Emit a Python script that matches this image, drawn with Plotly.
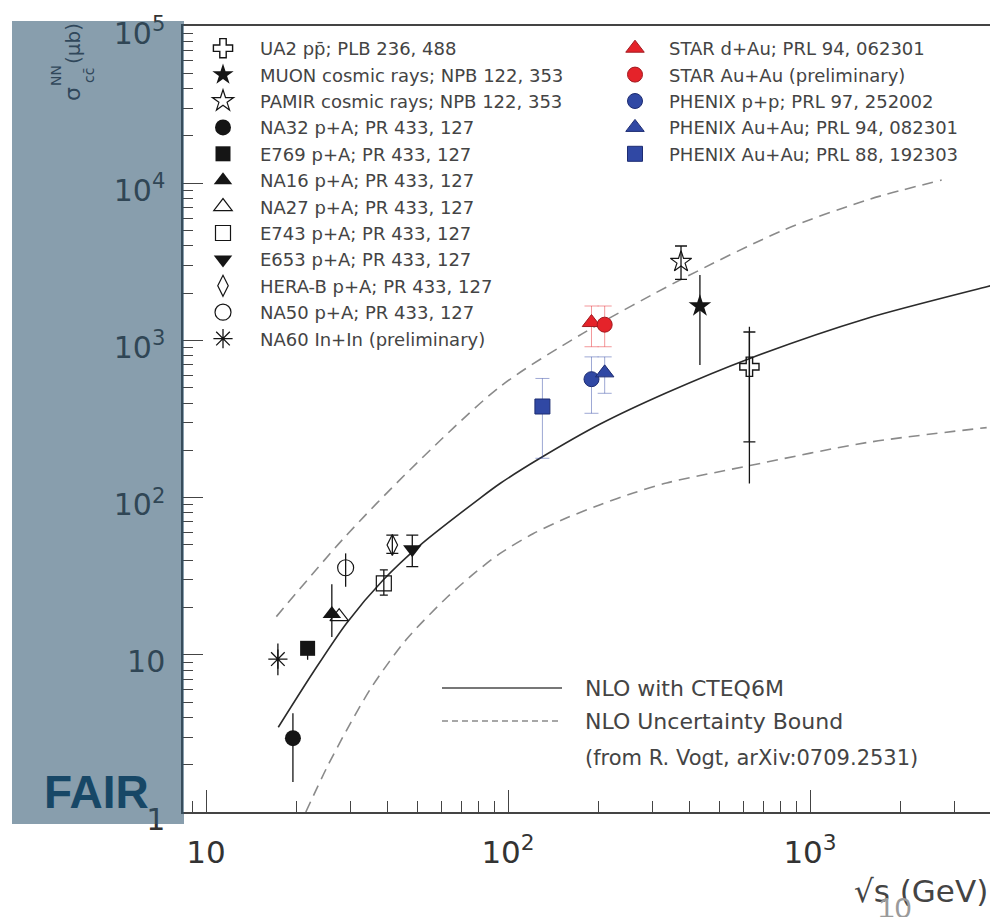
import plotly.graph_objects as go

# ---------------------------------------------------------------------------
# Open-charm production cross sections, sigma_cc (microbarn) vs sqrt(s) (GeV)
# ---------------------------------------------------------------------------
labels = [
    "UA2 pp̄; PLB 236, 488",
    "MUON cosmic rays; NPB 122, 353",
    "PAMIR cosmic rays; NPB 122, 353",
    "NA32 p+A; PR 433, 127",
    "E769 p+A; PR 433, 127",
    "NA16 p+A; PR 433, 127",
    "NA27 p+A; PR 433, 127",
    "E743 p+A; PR 433, 127",
    "E653 p+A; PR 433, 127",
    "HERA-B p+A; PR 433, 127",
    "NA50 p+A; PR 433, 127",
    "NA60 In+In (preliminary)",
    "STAR d+Au; PRL 94, 062301",
    "STAR Au+Au (preliminary)",
    "PHENIX p+p; PRL 97, 252002",
    "PHENIX Au+Au; PRL 94, 082301",
    "PHENIX Au+Au; PRL 88, 192303",
]
sqrt_s = [630, 432, 374, 19.4, 21.7, 26.1, 27.6, 38.8, 48.2, 41.4, 29.0, 17.3,
          189, 209, 189, 209, 130]
sigma = [680, 1656, 3165, 2.95, 11.0, 18.2, 17.5, 28.5, 46.9, 49.9, 35.8, 9.4,
         1300, 1260, 567, 622, 380]
err_plus = [452, 951, 825, 1.3, 0.5, 9.9, 0, 6.2, 10.9, 7.9, 8.4, 2.4,
            356, 396, 219, 164, 193]
err_minus = [454, 958, 718, 1.4, 1.7, 5.2, 0, 4.5, 10.5, 5.7, 8.7, 2.0,
             388, 348, 223, 161, 202]

# UA2 full (stat + syst) extent, drawn without caps
ua2_total_plus = [542]
ua2_total_minus = [557]

# NLO calculation with CTEQ6M (R. Vogt) and its uncertainty band
nlo_x = [17.35, 22.7, 29.2, 38.6, 51.2, 80.7, 94.1, 127.6, 202, 335, 632, 1541, 3850, 4000]
nlo_y = [3.46, 7.8, 15.9, 29.9, 49.9, 99, 123, 178, 294, 465, 769, 1381, 2197, 2240]
upper_x = [17.1, 28.5, 47.3, 94.1, 177, 371, 817, 1585, 2729]
upper_y = [17.5, 54.8, 150, 508, 1109, 2422, 5036, 7943, 10480]
lower_x = [21.4, 25.1, 29.2, 35.5, 46.2, 63.1, 78.7, 94.2, 121, 156, 202, 260, 335,
           632, 1542, 3846]
lower_y = [1.0, 1.91, 3.31, 6.31, 12.6, 23.4, 33.9, 44.2, 58.9, 74.1, 90.2, 107, 124,
           160, 224, 279]

# ---------------------------------------------------------------------------
# styling
# ---------------------------------------------------------------------------
BLACK = "#151515"
RED, RED_EDGE, RED_BAR = "#e5232a", "#a11a20", "rgba(229,35,42,0.6)"
BLUE, BLUE_EDGE, BLUE_BAR = "#3048a4", "#1d2c72", "rgba(48,72,164,0.6)"

# symbol, fill colour, edge colour, edge width, size, error colour, bar width, cap width, legend
styles = [
    ("cross-open", BLACK, BLACK, 1.4, 16, BLACK, 1.3, 6, "legend"),
    ("star", BLACK, BLACK, 0, 17, BLACK, 1.3, 0, "legend"),
    ("star-open", BLACK, BLACK, 1.2, 16, BLACK, 1.3, 6, "legend"),
    ("circle", BLACK, BLACK, 0, 16, BLACK, 1.3, 0, "legend"),
    ("square", BLACK, BLACK, 0, 15, BLACK, 1.3, 0, "legend"),
    ("triangle-up", BLACK, BLACK, 0, 16, BLACK, 1.3, 0, "legend"),
    ("triangle-up-open", BLACK, BLACK, 1.2, 16, BLACK, 1.3, 0, "legend"),
    ("square-open", BLACK, BLACK, 1.2, 15, BLACK, 1.3, 4, "legend"),
    ("triangle-down", BLACK, BLACK, 0, 16, BLACK, 1.3, 6, "legend"),
    ("diamond-tall-open", BLACK, BLACK, 1.2, 15, BLACK, 1.3, 6, "legend"),
    ("circle-open", BLACK, BLACK, 1.2, 16, BLACK, 1.3, 0, "legend"),
    ("asterisk-open", BLACK, BLACK, 1.3, 16, BLACK, 1.3, 0, "legend"),
    ("triangle-up", RED, RED_EDGE, 1, 16, RED_BAR, 0.8, 7, "legend2"),
    ("circle", RED, RED_EDGE, 1, 15, RED_BAR, 0.8, 7, "legend2"),
    ("circle", BLUE, BLUE_EDGE, 1, 15, BLUE_BAR, 0.8, 7, "legend2"),
    ("triangle-up", BLUE, BLUE_EDGE, 1, 16, BLUE_BAR, 0.8, 7, "legend2"),
    ("square", BLUE, BLUE_EDGE, 1, 15, BLUE_BAR, 0.8, 7, "legend2"),
]

FONT = "DejaVu Sans"
TEXT = "#3a3a3a"

fig = go.Figure()

# theory curves (behind the data)
fig.add_trace(go.Scatter(x=nlo_x, y=nlo_y, mode="lines", name="NLO with CTEQ6M",
                         line=dict(color="#2b2b2b", width=1.6, shape="spline", smoothing=0.8),
                         showlegend=False, hoverinfo="skip"))
fig.add_trace(go.Scatter(x=upper_x, y=upper_y, mode="lines", name="NLO Uncertainty Bound",
                         line=dict(color="#8a8a8a", width=1.6, dash="11px,7px",
                                   shape="spline", smoothing=0.8),
                         showlegend=False, hoverinfo="skip"))
fig.add_trace(go.Scatter(x=lower_x, y=lower_y, mode="lines", name="NLO Uncertainty Bound",
                         line=dict(color="#8a8a8a", width=1.6, dash="11px,7px",
                                   shape="spline", smoothing=0.8),
                         showlegend=False, hoverinfo="skip"))

# UA2 outer error bar (no caps)
fig.add_trace(go.Scatter(x=sqrt_s[:1], y=sigma[:1], mode="markers",
                         marker=dict(size=1, color="rgba(0,0,0,0)"),
                         error_y=dict(type="data", symmetric=False, array=ua2_total_plus,
                                      arrayminus=ua2_total_minus, color=BLACK,
                                      thickness=1.3, width=0),
                         showlegend=False, hoverinfo="skip"))

for i, name in enumerate(labels):
    sym, fill, edge, ew, size, ecol, bar_w, capw, leg = styles[i]
    has_err = err_plus[i] > 0 or err_minus[i] > 0
    fig.add_trace(go.Scatter(
        x=[sqrt_s[i]], y=[sigma[i]], mode="markers", name=name, legend=leg,
        marker=dict(symbol=sym, size=size, color=fill,
                    line=dict(color=edge, width=ew)),
        error_y=dict(type="data", symmetric=False, array=[err_plus[i]],
                     arrayminus=[err_minus[i]], color=ecol, thickness=bar_w,
                     width=capw, visible=has_err),
    ))

# ---------------------------------------------------------------------------
# layout
# ---------------------------------------------------------------------------
W, H = 990, 917
L, R, T, B = 183, 990, 26, 812  # plot-area edges in pixels


def xp(px):
    return (px - L) / (R - L)


def yp(py):
    return (B - py) / (B - T)


axis_common = dict(type="log", showline=True, linecolor="#444", linewidth=1.5,
                   ticks="inside", tickcolor="#444", tickwidth=1.3,
                   showgrid=False, zeroline=False, automargin=False)

fig.update_layout(
    width=W, height=H,
    margin=dict(l=L, r=W - R, t=T, b=H - B, pad=0, autoexpand=False),
    paper_bgcolor="white", plot_bgcolor="white",
    font=dict(family=FONT, color=TEXT),
    xaxis=dict(**axis_common, range=[0.92384, 3.59603], mirror=True,
               tickvals=[10, 100, 1000],
               ticktext=["10", "10<sup>2</sup>", "10<sup>3</sup>"],
               ticklen=22, tickfont=dict(family=FONT, size=31, color="#333"),
               ticklabelstandoff=12,
               minor=dict(ticks="inside", ticklen=11, dtick="D1",
                          tickcolor="#444", tickwidth=1.2, showgrid=False)),
    yaxis=dict(**axis_common, range=[0, 5.0005], mirror=False,
               tickvals=[1, 10, 100, 1000, 1e4, 1e5],
               ticktext=["1", "10", "10<sup>2</sup>", "10<sup>3</sup>",
                         "10<sup>4</sup>", "10<sup>5</sup>"],
               ticklen=20, tickfont=dict(family=FONT, size=30, color="#333"),
               ticklabelstandoff=10, ticklabelshift=7,
               minor=dict(ticks="inside", ticklen=10, dtick="D1",
                          tickcolor="#444", tickwidth=1.2, showgrid=False)),
    legend=dict(xref="paper", yref="paper", x=xp(186), y=yp(30),
                xanchor="left", yanchor="top", bgcolor="rgba(0,0,0,0)",
                font=dict(family=FONT, size=18, color="#444"), itemwidth=64,
                tracegroupgap=0),
    legend2=dict(xref="paper", yref="paper", x=xp(601), y=yp(30),
                 xanchor="left", yanchor="top", bgcolor="rgba(0,0,0,0)",
                 font=dict(family=FONT, size=18, color="#444"), itemwidth=58,
                 tracegroupgap=0),
    showlegend=True,
)

# key for the theory curves
fig.add_shape(type="line", xref="paper", yref="paper",
              x0=xp(442), x1=xp(562), y0=yp(688), y1=yp(688),
              line=dict(color="#4a4a4a", width=1.6))
fig.add_shape(type="line", xref="paper", yref="paper",
              x0=xp(442), x1=xp(562), y0=yp(721), y1=yp(721),
              line=dict(color="#8a8a8a", width=1.6, dash="6px,4px"))
for txt, ypix, size in [("NLO with CTEQ6M", 688, 22),
                        ("NLO Uncertainty Bound", 721, 22),
                        ("(from R. Vogt, arXiv:0709.2531)", 758, 21)]:
    fig.add_annotation(text=txt, xref="paper", yref="paper", x=xp(583), y=yp(ypix),
                       xanchor="left", yanchor="middle", showarrow=False,
                       font=dict(family=FONT, size=size, color="#444"))

# FAIR panel over the left margin
fig.add_shape(type="rect", xref="paper", yref="paper", layer="above",
              x0=xp(12), x1=xp(184), y0=yp(824), y1=yp(21),
              fillcolor="rgba(46,85,111,0.57)", line=dict(width=0))
fig.add_annotation(text="<b>FAIR</b>", xref="paper", yref="paper",
                   x=xp(42), y=yp(792), xanchor="left", yanchor="middle",
                   showarrow=False,
                   font=dict(family="Liberation Sans", size=46, color="#174766"))

# y-axis title (seen through the panel)
TITLE_C = "#30475a"
for txt, cx, cy, size in [("σ", 72, 94, 22), ("NN", 56, 76, 14),
                          ("cc̄", 89, 76, 14), ("(μb)", 73, 43, 20)]:
    fig.add_annotation(text=txt, xref="paper", yref="paper", x=xp(cx), y=yp(cy),
                       xanchor="center", yanchor="middle", textangle=-90,
                       showarrow=False, font=dict(family=FONT, size=size, color=TITLE_C))

# x-axis title and page number
fig.add_annotation(text="√s (GeV)", xref="paper", yref="paper", x=xp(990), y=yp(891),
                   xanchor="right", yanchor="middle", showarrow=False,
                   font=dict(family=FONT, size=31, color="#444"))
fig.add_annotation(text="10", xref="paper", yref="paper", x=xp(894), y=yp(907),
                   xanchor="center", yanchor="middle", showarrow=False,
                   font=dict(family="Liberation Sans", size=30, color="#9a9a9a"))

fig.write_html("out.html")
